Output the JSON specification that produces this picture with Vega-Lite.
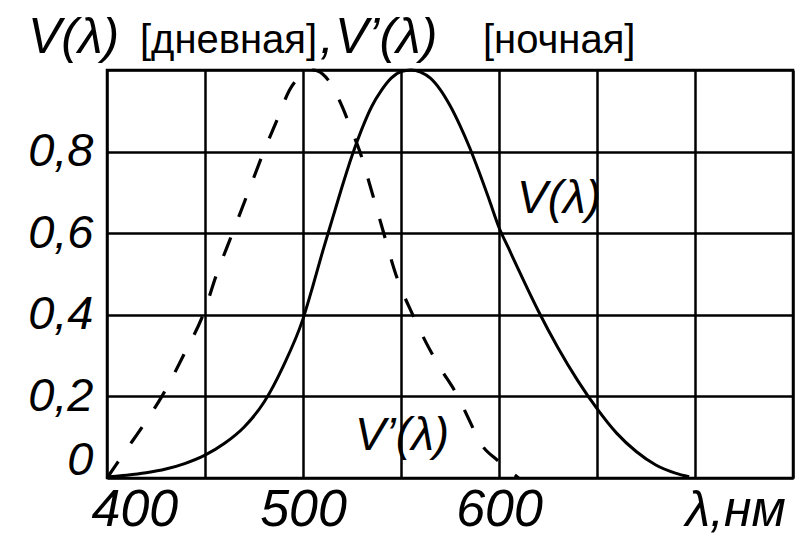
{
  "$schema": "https://vega.github.io/schema/vega-lite/v6.json",
  "autosize": {"type": "none"},
  "width": 686,
  "height": 408,
  "padding": {"left": 107, "top": 70, "right": 9, "bottom": 57},
  "background": "white",
  "config": {
    "view": {"stroke": "black", "strokeWidth": 2.5},
    "font": "Liberation Sans"
  },
  "datasets": {
    "day": [
      {"lam": 400, "v": 0.003}, {"lam": 410, "v": 0.007}, {"lam": 420, "v": 0.013},
      {"lam": 430, "v": 0.022}, {"lam": 440, "v": 0.036}, {"lam": 450, "v": 0.056},
      {"lam": 460, "v": 0.085}, {"lam": 470, "v": 0.125}, {"lam": 480, "v": 0.185},
      {"lam": 490, "v": 0.275}, {"lam": 500, "v": 0.39}, {"lam": 505, "v": 0.47},
      {"lam": 510, "v": 0.555}, {"lam": 515, "v": 0.635}, {"lam": 520, "v": 0.715},
      {"lam": 525, "v": 0.79}, {"lam": 530, "v": 0.855}, {"lam": 535, "v": 0.91},
      {"lam": 540, "v": 0.95}, {"lam": 545, "v": 0.98}, {"lam": 550, "v": 0.996},
      {"lam": 555, "v": 1.0}, {"lam": 560, "v": 0.995}, {"lam": 565, "v": 0.98},
      {"lam": 570, "v": 0.952}, {"lam": 575, "v": 0.913}, {"lam": 580, "v": 0.865},
      {"lam": 585, "v": 0.81}, {"lam": 590, "v": 0.748}, {"lam": 595, "v": 0.682},
      {"lam": 600, "v": 0.614}, {"lam": 605, "v": 0.562}, {"lam": 610, "v": 0.51},
      {"lam": 620, "v": 0.41}, {"lam": 630, "v": 0.32}, {"lam": 640, "v": 0.24},
      {"lam": 650, "v": 0.17}, {"lam": 660, "v": 0.11}, {"lam": 670, "v": 0.065},
      {"lam": 680, "v": 0.032}, {"lam": 690, "v": 0.012}, {"lam": 697, "v": 0.003}
    ],
    "night": [
      {"lam": 400, "v": 0.0}, {"lam": 410, "v": 0.07}, {"lam": 420, "v": 0.14},
      {"lam": 428, "v": 0.2}, {"lam": 440, "v": 0.31}, {"lam": 449, "v": 0.4},
      {"lam": 456, "v": 0.5}, {"lam": 464, "v": 0.6}, {"lam": 472, "v": 0.7},
      {"lam": 480, "v": 0.8}, {"lam": 487, "v": 0.88}, {"lam": 493, "v": 0.95},
      {"lam": 500, "v": 0.99}, {"lam": 505, "v": 1.0}, {"lam": 510, "v": 0.99},
      {"lam": 515, "v": 0.96}, {"lam": 520, "v": 0.91}, {"lam": 525, "v": 0.85},
      {"lam": 529, "v": 0.8}, {"lam": 534, "v": 0.72}, {"lam": 540, "v": 0.62},
      {"lam": 548, "v": 0.49}, {"lam": 556, "v": 0.4}, {"lam": 563, "v": 0.33},
      {"lam": 570, "v": 0.27}, {"lam": 579, "v": 0.2}, {"lam": 585, "v": 0.14},
      {"lam": 590, "v": 0.09}, {"lam": 600, "v": 0.04}, {"lam": 610, "v": 0.0}
    ],
    "titleBig": [
      {"lam": 359.7, "v": 1.042, "t": "V(λ)"},
      {"lam": 508.7, "v": 1.042, "t": ","},
      {"lam": 516.3, "v": 1.042, "t": "V’(λ)"}
    ],
    "titleSmall": [
      {"lam": 416.8, "v": 1.042, "t": "[дневная]"},
      {"lam": 591.8, "v": 1.042, "t": "[ночная]"}
    ],
    "annot": [
      {"lam": 609.2, "v": 0.65, "t": "V(λ)"},
      {"lam": 526.5, "v": 0.069, "t": "V’(λ)"}
    ]
  },
  "encoding": {
    "x": {
      "field": "lam", "type": "quantitative",
      "scale": {"domain": [400, 750], "nice": false, "zero": false},
      "axis": {
        "values": [400, 450, 500, 550, 600, 650, 700, 750],
        "labelExpr": "(datum.value == 400 || datum.value == 500 || datum.value == 600) ? datum.label : ''",
        "grid": true, "gridColor": "black", "gridWidth": 2.5, "gridOpacity": 1,
        "ticks": false, "domain": false,
        "labelFont": "Liberation Sans", "labelFontStyle": "italic", "labelFontSize": 52,
        "labelColor": "black", "labelPadding": 6,
        "labelFlush": true, "labelFlushOffset": 16,
        "title": "λ,нм", "titleFont": "Liberation Sans", "titleFontStyle": "italic",
        "titleFontWeight": "normal", "titleFontSize": 50, "titleColor": "black",
        "titleX": 578, "titleY": 47, "titleAlign": "left", "titleBaseline": "alphabetic",
        "titleAnchor": null
      }
    },
    "y": {
      "field": "v", "type": "quantitative",
      "scale": {"domain": [0, 1], "nice": false},
      "axis": {
        "values": [0, 0.2, 0.4, 0.6, 0.8, 1.0],
        "labelExpr": "datum.value == 0 ? '0' : (datum.value > 0.95 ? '' : replace(format(datum.value, '.1f'), '.', ','))",
        "grid": true, "gridColor": "black", "gridWidth": 2.5, "gridOpacity": 1,
        "ticks": false, "domain": false,
        "labelFont": "Liberation Sans", "labelFontStyle": "italic", "labelFontSize": 47,
        "labelColor": "black", "labelPadding": 14,
        "labelFlush": true, "labelFlushOffset": 6,
        "title": null
      }
    }
  },
  "layer": [
    {
      "data": {"name": "day"},
      "mark": {"type": "line", "color": "black", "strokeWidth": 3, "interpolate": "monotone"}
    },
    {
      "data": {"name": "night"},
      "mark": {"type": "line", "color": "black", "strokeWidth": 3.2, "interpolate": "monotone", "strokeDash": [20, 22]}
    },
    {
      "data": {"name": "titleBig"},
      "mark": {"type": "text", "font": "Liberation Sans", "fontStyle": "italic", "fontSize": 50, "align": "left", "baseline": "alphabetic", "color": "black"},
      "encoding": {"text": {"field": "t"}}
    },
    {
      "data": {"name": "titleSmall"},
      "mark": {"type": "text", "font": "Liberation Sans", "fontSize": 40, "align": "left", "baseline": "alphabetic", "color": "black"},
      "encoding": {"text": {"field": "t"}}
    },
    {
      "data": {"name": "annot"},
      "mark": {"type": "text", "font": "Liberation Sans", "fontStyle": "italic", "fontSize": 46, "align": "left", "baseline": "alphabetic", "color": "black"},
      "encoding": {"text": {"field": "t"}}
    }
  ]
}
